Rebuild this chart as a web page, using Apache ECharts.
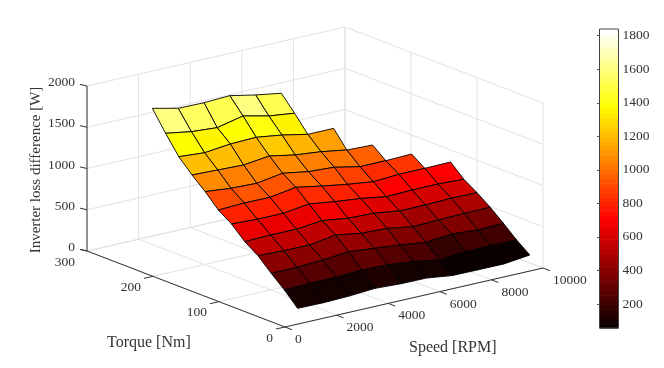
<!DOCTYPE html>
<html><head><meta charset="utf-8">
<style>html,body{margin:0;padding:0;background:#fff}#c{width:664px;height:368px}</style>
<script src="https://cdn.jsdelivr.net/npm/echarts@6/dist/echarts.min.js"></script>
</head><body><div id="c"></div>
<script>
const speeds=[1000,2000,3000,4000,5000,6000,7000,8000,9000,10000];
const torques=[20,40,60,80,100,120,140,160,180,200,220,240];
const loss20=[93,90,99,121,105,103,62,60,60,96];
const loss40=[255,264,265,282,272,240,189,218,219,217];
const loss60=[395,396,413,442,412,380,342,371,348,358];
const loss80=[547,536,533,583,532,521,469,479,488,490];
const loss100=[656,665,663,696,653,642,599,600,610,606];
const loss120=[808,794,795,836,793,760,710,720,721,707];
const loss140=[916,930,927,977,921,870,830,848,850,855];
const loss160=[1078,1047,1036,1086,1034,1016,951,953,962,null];
const loss180=[1218,1207,1196,1234,1175,1143,1092,1081,null,null];
const loss200=[1378,1355,1389,1399,1355,1292,1293,null,null,null];
const loss220=[1601,1549,1526,1596,1525,1486,null,null,null,null];
const loss240=[1842,1771,1767,1781,1718,1667,null,null,null,null];
const lossRows=[loss20,loss40,loss60,loss80,loss100,loss120,loss140,loss160,loss180,loss200,loss220,loss240];
const speedTicks=[0,2000,4000,6000,8000,10000];
const torqueTicks=[0,100,200,300];
const lossTicks=[0,500,1000,1500,2000];
const barTicks=[200,400,600,800,1000,1200,1400,1600,1800];
const cMin=57,cMax=1840,S=10000,T=300,Z=2000;
const TXT='#333',FONT='"Liberation Serif","Times New Roman",serif';

function hot(k){const n=24,m=64;k=Math.max(0,Math.min(m-1,k));
  const r=Math.min(1,(k+1)/n),g=k<n?0:Math.min(1,(k+1-n)/n),b=k<2*n?0:(k+1-2*n)/(m-2*n);
  return 'rgb('+Math.round(r*255)+','+Math.round(g*255)+','+Math.round(b*255)+')';}
function colorOf(v){return hot(Math.floor((v-cMin)/(cMax-cMin)*64));}
function proj(s,t,z){return [285+258*s/S-198*t/T, 327-59*s/S-76*t/T-165*z/Z];}

const cells=[];
for(let j=torques.length-2;j>=0;j--)for(let i=speeds.length-2;i>=0;i--){
  const a=lossRows[j][i],b=lossRows[j][i+1],c=lossRows[j+1][i+1],d=lossRows[j+1][i];
  if(a==null||b==null||c==null||d==null)continue;
  cells.push([i,j]);
}
const grid3=[];
lossTicks.forEach(z=>{grid3.push([0,T,z,S,T,z]);grid3.push([S,T,z,S,0,z]);});
speedTicks.forEach(s=>{grid3.push([s,T,0,s,T,Z]);grid3.push([s,0,0,s,T,0]);});
torqueTicks.forEach(t=>{grid3.push([S,t,0,S,t,Z]);grid3.push([0,t,0,S,t,0]);});
const axes3=[[0,T,0,0,T,Z],[0,T,0,0,0,0],[0,0,0,S,0,0]];

function seg(api,a,b,style){const p=api.coord(proj(a[0],a[1],a[2])),q=api.coord(proj(b[0],b[1],b[2]));
  return {type:'line',shape:{x1:p[0],y1:p[1],x2:q[0],y2:q[1]},style};}
const pixelAxes={xAxisIndex:0,yAxisIndex:0};
const labelData=[];
lossTicks.forEach(z=>labelData.push([0,T,z,String(z),-12,-3.5,'right']));
torqueTicks.forEach(t=>labelData.push([0,t,0,String(t),-12,11,'right']));
speedTicks.forEach(s=>labelData.push([s,0,0,String(s),10,12.5,'left']));

const option={
  animation:false,backgroundColor:'#fff',
  grid:[{left:0,top:0,width:664,height:368},{left:599.5,top:29,width:19,height:299}],
  xAxis:[{type:'value',min:0,max:664,show:false},{type:'value',gridIndex:1,min:0,max:1,show:false}],
  yAxis:[{type:'value',min:0,max:368,inverse:true,show:false},
    {type:'value',gridIndex:1,min:cMin,max:cMax,position:'right',
     axisLine:{show:false},splitLine:{show:false},
     axisTick:{show:true,inside:true,length:2.5,customValues:barTicks,lineStyle:{color:'#555'}},
     axisLabel:{show:true,inside:false,margin:4,customValues:barTicks,formatter:v=>String(v),color:TXT,fontFamily:FONT,fontSize:13.5}}],
  graphic:[
    {type:'text',x:107,y:334.5,style:{text:'Torque [Nm]',font:'16px '+FONT,fill:TXT},silent:true},
    {type:'text',x:409,y:339.5,style:{text:'Speed [RPM]',font:'16px '+FONT,fill:TXT},silent:true},
    {type:'text',x:36.5,y:170,rotation:Math.PI/2,style:{text:'Inverter loss difference [W]',font:'15px '+FONT,fill:TXT,align:'center',verticalAlign:'middle'},silent:true}
  ],
  series:[
   {type:'custom',...pixelAxes,silent:true,clip:false,data:grid3,
    renderItem:(p,api)=>{const d=grid3[p.dataIndex];
      return seg(api,d.slice(0,3),d.slice(3,6),{stroke:'#e2e2e2',lineWidth:1});}},
   {type:'custom',...pixelAxes,silent:true,clip:false,data:axes3,z:3,
    renderItem:(p,api)=>{const d=axes3[p.dataIndex];
      return seg(api,d.slice(0,3),d.slice(3,6),{stroke:'#333',lineWidth:1});}},
   {type:'custom',...pixelAxes,silent:true,clip:false,z:3,data:labelData,
    renderItem:(p,api)=>{const d=labelData[p.dataIndex],q=api.coord(proj(d[0],d[1],d[2]));
      const kids=[{type:'text',style:{x:q[0]+d[4],y:q[1]+d[5],text:d[3],align:d[6],verticalAlign:'middle',font:'13.5px '+FONT,fill:TXT}}];
      const dx=d[6]==='left'?7:(d[2]>0||d[1]===T&&d[2]===0?-7:-9),dy=d[6]==='left'?2.7:(d[1]===T?-1.6:2);
      kids.push({type:'line',shape:{x1:q[0],y1:q[1],x2:q[0]+dx,y2:q[1]+dy},style:{stroke:'#333',lineWidth:1}});
      return {type:'group',children:kids};}},
   {type:'custom',...pixelAxes,silent:true,clip:false,z:4,data:cells,
    renderItem:(p,api)=>{const [i,j]=cells[p.dataIndex];
      const v=(a,b)=>api.coord(proj(speeds[a],torques[b],lossRows[b][a]));
      return {type:'polygon',shape:{points:[v(i,j),v(i+1,j),v(i+1,j+1),v(i,j+1)]},
        style:{fill:colorOf(lossRows[j][i]),stroke:'#000',lineWidth:0.9,lineJoin:'round'}};}},
   {type:'custom',xAxisIndex:1,yAxisIndex:1,silent:true,z:5,
    data:Array.from({length:64},(_,k)=>k),
    renderItem:(p,api)=>{const k=p.dataIndex,h=(cMax-cMin)/64;
      const a=api.coord([0,cMin+k*h]),b=api.coord([1,cMin+(k+1)*h]);
      return {type:'rect',shape:{x:a[0],y:b[1],width:b[0]-a[0],height:a[1]-b[1]+0.6},style:{fill:hot(k)}};}},
   {type:'custom',xAxisIndex:1,yAxisIndex:1,silent:true,z:6,data:[0],
    renderItem:(p,api)=>{const a=api.coord([0,cMin]),b=api.coord([1,cMax]);
      return {type:'rect',shape:{x:a[0],y:b[1],width:b[0]-a[0],height:a[1]-b[1]},style:{fill:'none',stroke:'#444',lineWidth:1}};}}
  ]
};
echarts.init(document.getElementById('c'),null,{renderer:'canvas'}).setOption(option);
</script></body></html>
